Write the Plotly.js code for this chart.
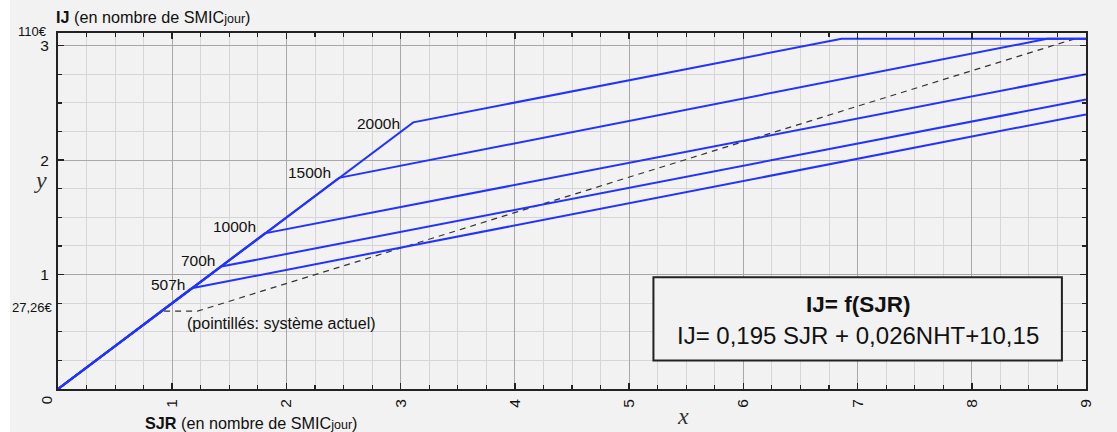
<!DOCTYPE html>
<html>
<head>
<meta charset="utf-8">
<script src="https://cdn.plot.ly/plotly-3.0.1.min.js"></script>
<style>html,body{margin:0;padding:0;background:#f2f2f2;}</style>
</head>
<body>
<div id="chart" style="width:1117px;height:432px;"></div>
<script>
// Curves: IJ as a function of SJR (both in number of daily SMIC), per hours worked
const hoursLabels = ["507h", "700h", "1000h", "1500h", "2000h"];
const curveX = [
  [0, 1.17, 9],
  [0, 1.43, 9],
  [0, 1.81, 9],
  [0, 2.46, 8.66, 9],
  [0, 3.11, 6.86, 9]
];
const curveY = [
  [0, 0.88, 2.40],
  [0, 1.07, 2.53],
  [0, 1.36, 2.75],
  [0, 1.845, 3.06, 3.06],
  [0, 2.33, 3.06, 3.06]
];
// current system (dashed)
const currentX = [0, 0.91, 1.22, 8.9, 9];
const currentY = [0, 0.68, 0.68, 3.06, 3.06];
// label positions (right edge) for hour labels
const labelX = [1.127, 1.39, 1.754, 2.405, 3.01];
const labelY = [0.91, 1.122, 1.419, 1.895, 2.32];
const xTickVals = [1, 2, 3, 4, 5, 6, 7, 8, 9];
const yTickVals = [1, 2, 3];

const blue = "#2233ff";
const font = "Liberation Sans, Arial, Helvetica, sans-serif";

const traces = [];
traces.push({
  x: currentX, y: currentY, mode: "lines", type: "scatter",
  line: {color: "#333333", width: 1.2, dash: "6px,5px"},
  hoverinfo: "skip", showlegend: false
});
for (let i = 0; i < curveX.length; i++) {
  traces.push({
    x: curveX[i], y: curveY[i], mode: "lines", type: "scatter",
    name: hoursLabels[i],
    line: {color: blue, width: 2},
    showlegend: false
  });
}

const annotations = [];
for (let i = 0; i < hoursLabels.length; i++) {
  annotations.push({
    x: labelX[i], y: labelY[i], xref: "x", yref: "y",
    text: hoursLabels[i], showarrow: false,
    xanchor: "right", yanchor: "middle",
    font: {family: font, size: 15.5, color: "#111"}
  });
}
annotations.push(
  {x: 1.112, y: 0.572, xref: "x", yref: "y", text: "(pointillés: système actuel)",
   showarrow: false, xanchor: "left", yanchor: "middle",
   font: {family: font, size: 16, color: "#111"}},
  {x: 7.0, y: 0.74, xref: "x", yref: "y", text: "<b>IJ= f(SJR)</b>",
   showarrow: false, xanchor: "center", yanchor: "middle",
   font: {family: font, size: 22.5, color: "#111"}},
  {x: 7.0, y: 0.47, xref: "x", yref: "y", text: "IJ= 0,195 SJR + 0,026NHT+10,15",
   showarrow: false, xanchor: "center", yanchor: "middle",
   font: {family: font, size: 24, color: "#111"}},
  // y-axis title (top)
  {x: -4/1028, y: 1 + 16/356, xref: "paper", yref: "paper",
   text: "<b>IJ</b> (en nombre de SMIC<span style='font-size:12.5px'>jour</span>)",
   showarrow: false, xanchor: "left", yanchor: "middle",
   font: {family: font, size: 16.2, color: "#111"}},
  // x-axis title (bottom)
  {x: (143-58)/1028, y: -(423-389.5)/356, xref: "paper", yref: "paper",
   text: "<b>SJR</b> (en nombre de SMIC<span style='font-size:12.5px'>jour</span>)",
   showarrow: false, xanchor: "left", yanchor: "middle",
   font: {family: font, size: 16.2, color: "#111"}},
  // 0 label
  {x: (46.7-58)/1028, y: -(401-389.5)/356, xref: "paper", yref: "paper",
   text: "0", textangle: -90, showarrow: false, xanchor: "center", yanchor: "middle",
   font: {family: font, size: 15, color: "#111"}},
  // euro labels
  {x: (49-58)/1028, y: 1 + 2/356, xref: "paper", yref: "paper",
   text: "110€", showarrow: false, xanchor: "right", yanchor: "middle",
   font: {family: font, size: 13, color: "#111"}},
  {x: (55-58)/1028, y: (389.5-308)/356, xref: "paper", yref: "paper",
   text: "27,26€", showarrow: false, xanchor: "right", yanchor: "middle",
   font: {family: font, size: 13, color: "#111"}},
  // italic axis letters
  {x: (40-58)/1028, y: (389.5-180)/356, xref: "paper", yref: "paper",
   text: "<i>y</i>", showarrow: false, xanchor: "center", yanchor: "middle",
   font: {family: "Liberation Serif, Times New Roman, serif", size: 24, color: "#333"}},
  {x: (683-58)/1028, y: -(416-389.5)/356, xref: "paper", yref: "paper",
   text: "<i>x</i>", showarrow: false, xanchor: "center", yanchor: "middle",
   font: {family: "Liberation Serif, Times New Roman, serif", size: 24, color: "#333"}}
);

const axisCommon = {
  showline: true, linecolor: "#222", linewidth: 2, mirror: "ticks",
  ticks: "inside", ticklen: 6, tickwidth: 1.5, tickcolor: "#222",
  showgrid: true, gridcolor: "#a8a8a8", gridwidth: 1,
  zeroline: false, fixedrange: true,
  tickfont: {family: font, size: 15.5, color: "#111"},
  minor: {dtick: 0.25, tick0: 0, showgrid: true, gridcolor: "#d6d6d6", gridwidth: 1,
          ticks: "inside", ticklen: 4, tickcolor: "#222", tickwidth: 1.2}
};

const layout = {
  width: 1117, height: 432,
  margin: {l: 58, r: 31, t: 33, b: 43, pad: 0},
  paper_bgcolor: "#f2f2f2", plot_bgcolor: "#f2f2f2",
  showlegend: false,
  xaxis: Object.assign({}, axisCommon, {
    range: [0, 9], tickmode: "array", tickvals: xTickVals,
    tickangle: -90, ticklabelstandoff: 2
  }),
  yaxis: Object.assign({}, axisCommon, {
    range: [0, 3.111], tickmode: "array", tickvals: yTickVals,
    ticklabelstandoff: 4
  }),
  shapes: [
    {type: "rect", xref: "x", yref: "y", x0: 5.213, x1: 8.789, y0: 0.249, y1: 0.976,
     fillcolor: "#f2f2f2", line: {color: "#222", width: 2}, layer: "above"},
    {type: "rect", xref: "paper", yref: "paper", x0: -58/1028, x1: -48/1028, y0: -43/356, y1: 1 + 33/356,
     fillcolor: "#ffffff", line: {width: 0}, layer: "below"}
  ],
  annotations: annotations
};

Plotly.newPlot("chart", traces, layout, {displayModeBar: false, staticPlot: true});
</script>
</body>
</html>
